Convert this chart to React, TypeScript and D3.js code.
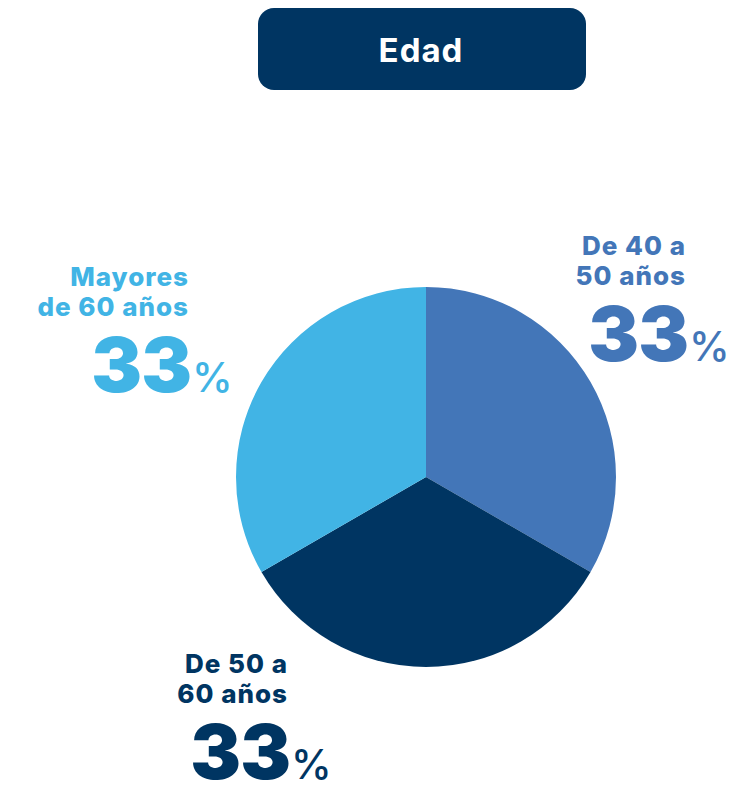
import React from 'react'
import * as d3 from 'd3'

const categories = ['De 40 a 50 años', 'De 50 a 60 años', 'Mayores de 60 años']
const labelLines = [['De 40 a', '50 años'], ['De 50 a', '60 años'], ['Mayores', 'de 60 años']]
const values = [33, 33, 33]
const colors = ['#4376b8', '#003562', '#41b4e5']
const title = 'Edad'

// right edge x / first baseline y of each label block
const labelPos = [
  { x: 686, y: 255 },
  { x: 288, y: 673 },
  { x: 189, y: 286 },
]

const width = 752
const height = 785
const cx = 426
const cy = 477
const radius = 190
const font = 'Inter, "Noto Sans", sans-serif'

const App: React.FunctionComponent = () => {
  const pie = d3.pie<number>().sort(null).value(d => d)
  const arcs = pie(values)
  const arc = d3.arc<d3.PieArcDatum<number>>().innerRadius(0).outerRadius(radius)

  return (
    <svg
      width={width}
      height={height}
      style={{ position: 'absolute', left: 0, top: 0, background: '#fff' }}
    >
      <rect x={258} y={8} width={328} height={82} rx={16} fill="#003562" />
      <text
        x={421}
        y={62}
        textAnchor="middle"
        fill="#fff"
        fontFamily={font}
        fontWeight={700}
        fontSize={33}
        letterSpacing={1}
      >
        {title}
      </text>

      <g transform={`translate(${cx}, ${cy})`}>
        {arcs.map((a, i) => (
          <path key={categories[i]} d={arc(a) || ''} fill={colors[i]} />
        ))}
      </g>

      {labelLines.map((lines, i) => {
        const p = labelPos[i]
        return (
          <g key={categories[i]} fill={colors[i]} fontFamily={font}>
            {lines.map((line, j) => (
              <text
                key={line}
                x={p.x}
                y={p.y + j * 30}
                textAnchor="end"
                fontWeight={800}
                fontSize={26}
                letterSpacing={1}
              >
                {line}
              </text>
            ))}
            <text
              x={p.x + 2}
              y={p.y + 106}
              textAnchor="end"
              fontWeight={900}
              fontSize={76}
              letterSpacing={-1}
            >
              {values[i]}
            </text>
            <text x={p.x + 3} y={p.y + 106} fontWeight={500} fontSize={41}>
              %
            </text>
          </g>
        )
      })}
    </svg>
  )
}

export default App
